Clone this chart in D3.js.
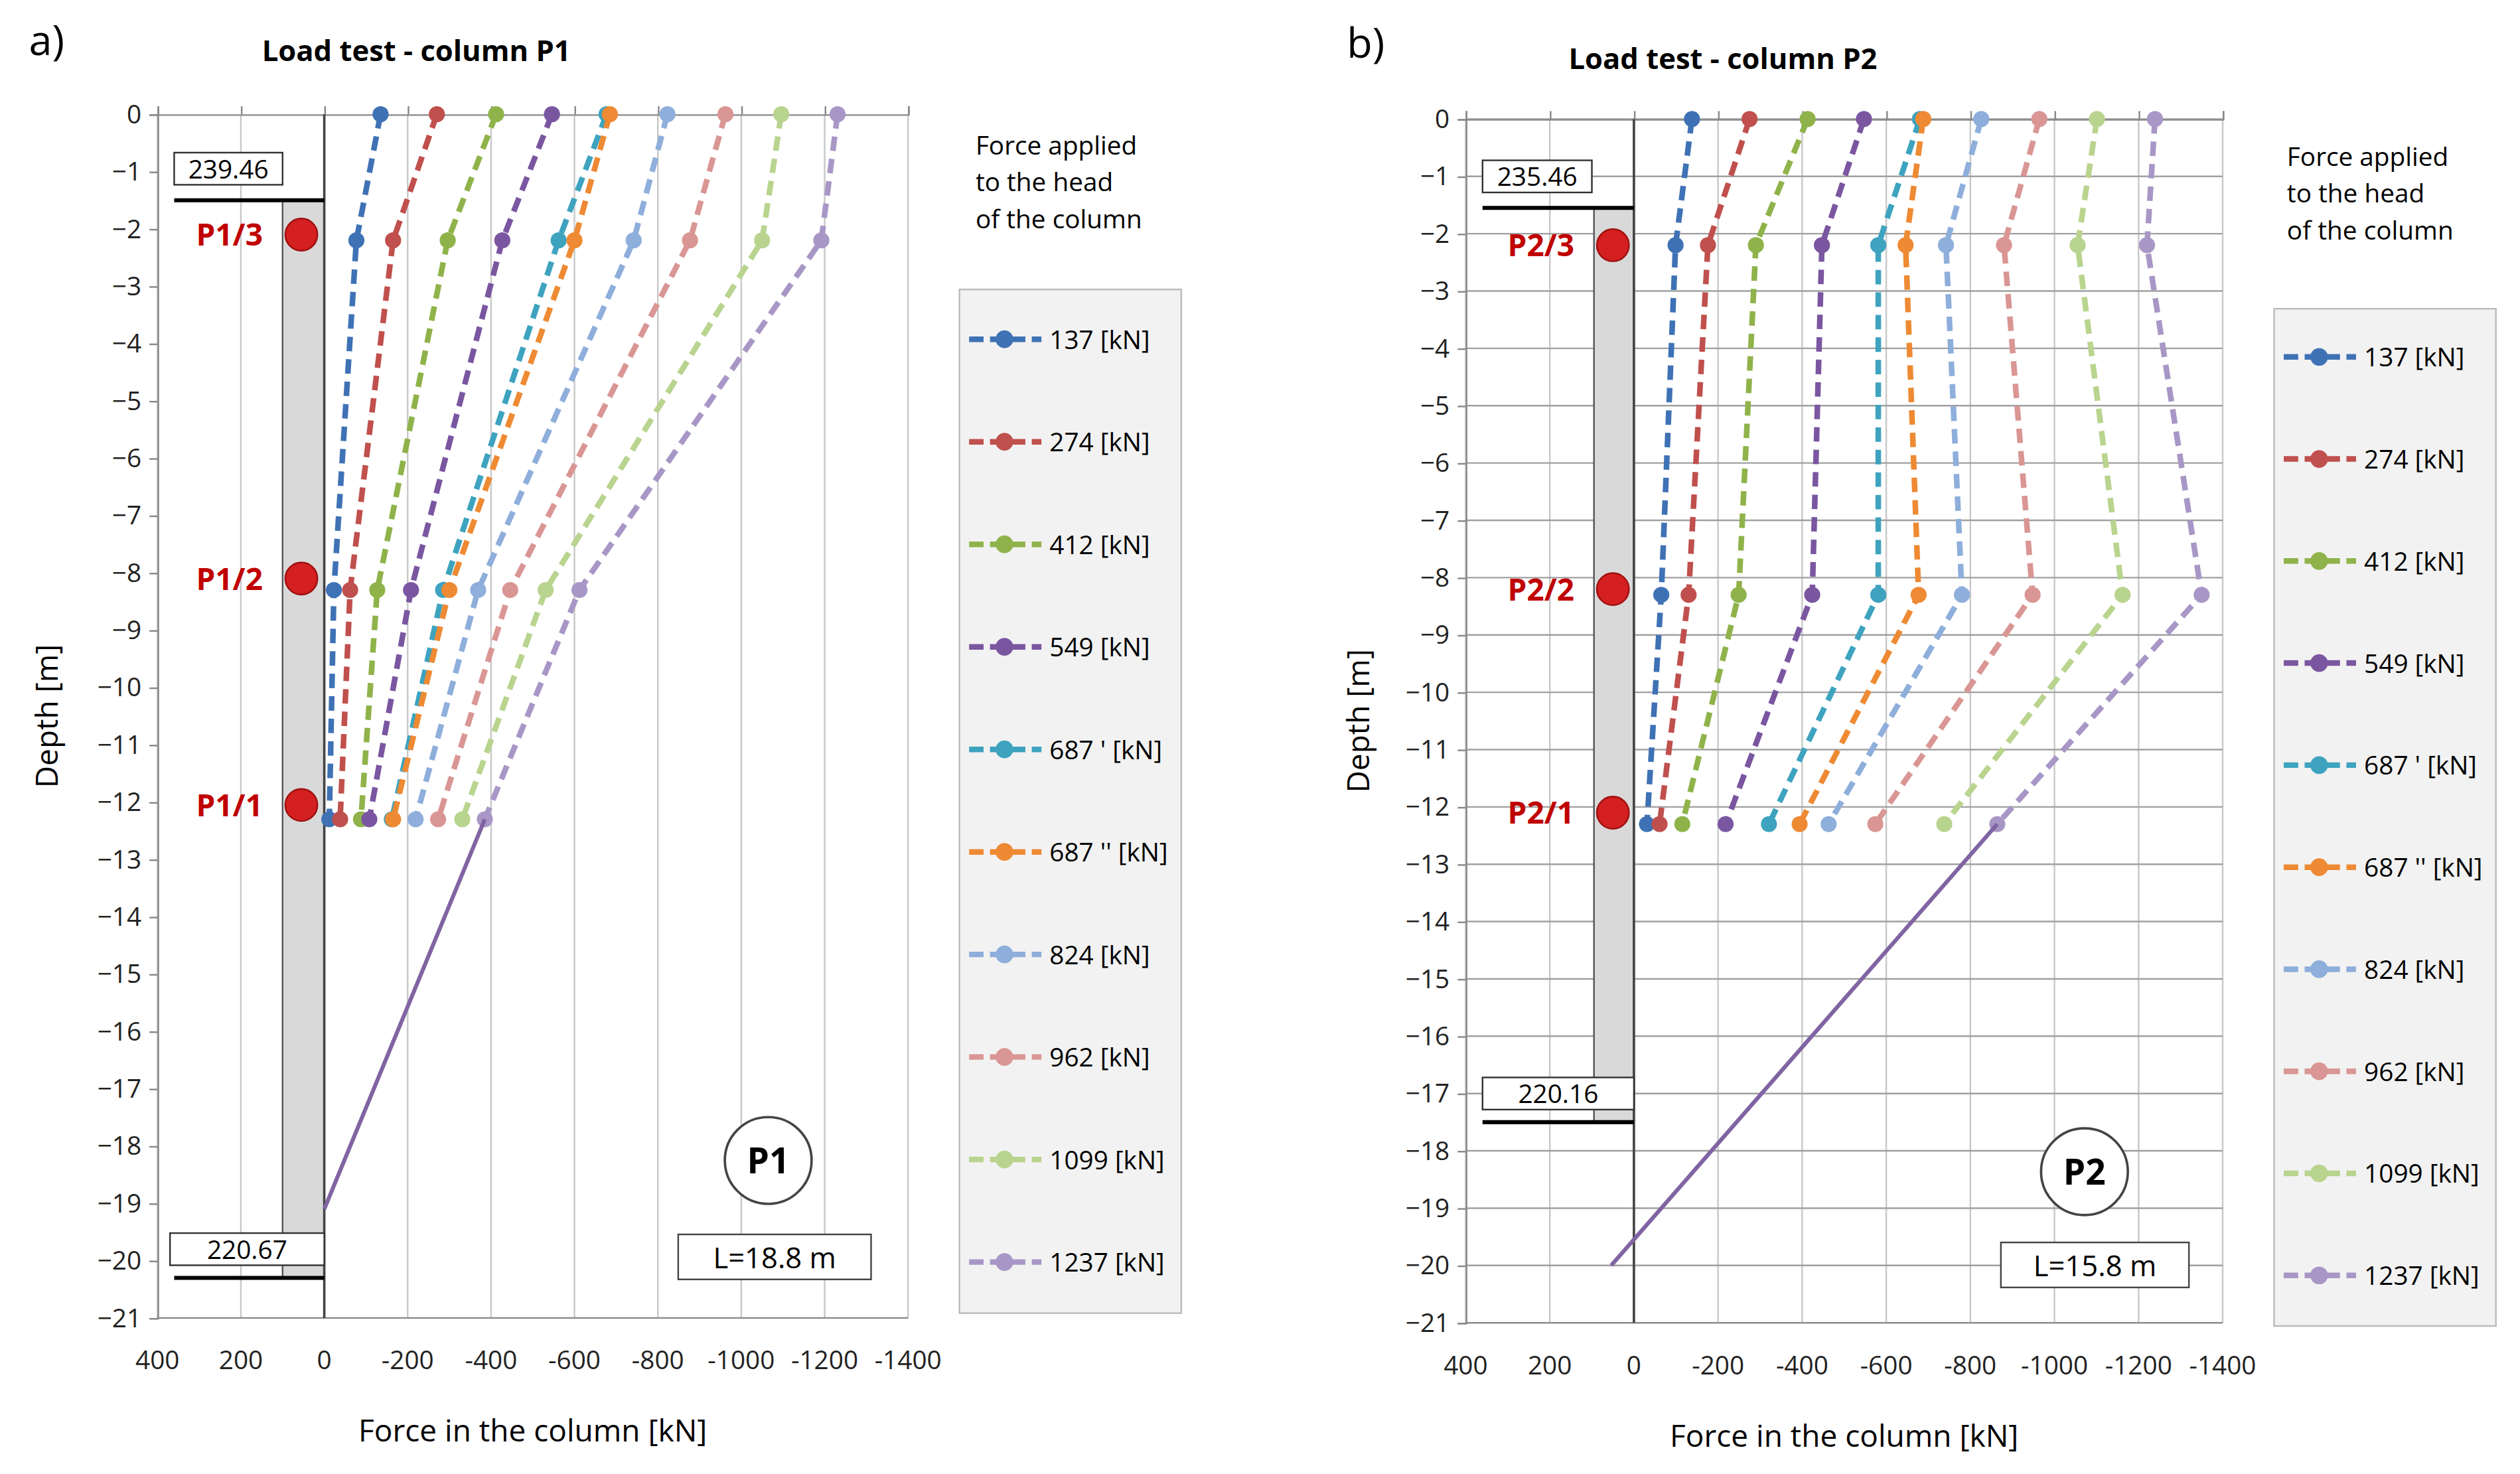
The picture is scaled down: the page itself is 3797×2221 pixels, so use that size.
<!DOCTYPE html>
<html><head><meta charset="utf-8">
<script src="https://cdn.jsdelivr.net/npm/d3@7"></script>
<style>body{margin:0;background:#fff}</style></head>
<body><svg id="c" width="3797" height="2221" viewBox="0 0 1568 917"></svg>
<script>
const seriesNames = ["137 [kN]","274 [kN]","412 [kN]","549 [kN]","687 ' [kN]","687 '' [kN]","824 [kN]","962 [kN]","1099 [kN]","1237 [kN]"];
const colors = ["#3f72b5","#c0504d","#8fb34a","#7a56a0","#3ea3bf","#ee8a33","#8eaedb","#d99694","#b9d48e","#a897c6"];
const depths = [0,-2.2,-8.3,-12.3];
const valuesP1 = [
 [-135,-77,-23,-12],[-270,-165,-62,-38],[-412,-296,-127,-88],[-546,-427,-208,-108],
 [-677,-562,-285,-162],[-685,-600,-300,-165],[-823,-742,-369,-219],[-962,-877,-446,-273],
 [-1096,-1050,-531,-331],[-1231,-1192,-612,-385]];
const valuesP2 = [
 [-138,-99,-65,-31],[-275,-176,-130,-61],[-413,-290,-249,-115],[-547,-447,-424,-218],
 [-680,-581,-581,-321],[-688,-646,-677,-394],[-826,-742,-780,-463],[-964,-880,-948,-574],
 [-1101,-1055,-1162,-738],[-1239,-1220,-1350,-864]];
const extP1 = [[-385,-12.3],[0,-19.1]];
const extP2 = [[-864,-12.3],[54,-20]];
const xTicks = [400,200,0,-200,-400,-600,-800,-1000,-1200,-1400];
const yTicks = d3.range(0,-22,-1);

const svg = d3.select("#c");
const font = "'Open Sans', sans-serif";

function panel(o){
  const g = svg.append("g");
  const x = d3.scaleLinear().domain([400,-1400]).range([o.x0,o.x1]);
  const y = d3.scaleLinear().domain([0,-21]).range([o.y0,o.y1]);
  // grid
  g.selectAll(".vg").data(xTicks).join("line").attr("x1",d=>x(d)).attr("x2",d=>x(d))
   .attr("y1",y(0)).attr("y2",y(-21)).attr("stroke","#c8c8c8").attr("stroke-width",1);
  if(o.hgrid) g.selectAll(".hg").data(yTicks).join("line").attr("x1",x(400)).attr("x2",x(-1400))
   .attr("y1",d=>y(d)).attr("y2",d=>y(d)).attr("stroke","#a0a0a0").attr("stroke-width",1);
  // axes
  const ya = g.append("g").attr("transform",`translate(${x(400)},0)`).call(d3.axisLeft(y).tickValues(yTicks).tickSize(5).tickFormat(d3.format("d")));
  const xa = g.append("g").attr("transform",`translate(0,${y(0)})`).call(d3.axisTop(x).tickValues(xTicks).tickSize(5).tickFormat(""));
  g.append("line").attr("x1",x(400)).attr("x2",x(-1400)).attr("y1",y(-21)).attr("y2",y(-21)).attr("stroke","#888");
  [ya,xa].forEach(a=>{a.select(".domain").attr("stroke","#888");a.selectAll("line").attr("stroke","#888");});
  ya.selectAll("text").attr("font-family",font).attr("font-size",16).attr("fill","#222").attr("dx",-2);
  g.selectAll(".xt").data(xTicks).join("text").attr("x",d=>x(d)).attr("y",y(-21)+32).attr("text-anchor","middle")
   .attr("font-family",font).attr("font-size",16).attr("fill","#222").text(d=>d);
  // column
  g.append("rect").attr("x",x(o.colX)).attr("width",x(0)-x(o.colX)).attr("y",y(o.colTop)).attr("height",y(o.colBot)-y(o.colTop))
   .attr("fill","#d9d9d9").attr("stroke","#555").attr("stroke-width",1);
  g.append("line").attr("x1",x(0)).attr("x2",x(0)).attr("y1",y(0)).attr("y2",y(-21)).attr("stroke","#444").attr("stroke-width",1.5);
  [o.colTop,o.colBot].forEach(d=>g.append("line").attr("x1",x(o.capX)).attr("x2",x(0)).attr("y1",y(d)).attr("y2",y(d)).attr("stroke","#000").attr("stroke-width",2.5));
  o.elev.forEach(e=>{
    const gg=g.append("g");
    gg.append("rect").attr("x",x(e[0])).attr("y",y(e[1])-10).attr("width",x(e[2])-x(e[0])).attr("height",20).attr("fill","#fff").attr("stroke","#333");
    gg.append("text").attr("x",(x(e[0])+x(e[2]))/2).attr("y",y(e[1])+6).attr("text-anchor","middle").attr("font-family",font).attr("font-size",16).text(e[3]);
  });
  // lines
  const line = d3.line().x(d=>x(d[0])).y(d=>y(d[1]));
  o.vals.forEach((v,i)=>{
    const pts = v.map((d,j)=>[d,depths[j]]);
    g.append("path").attr("d",line(pts)).attr("fill","none").attr("stroke",colors[i]).attr("stroke-width",3.5).attr("stroke-dasharray","9,5");
    g.selectAll(null).data(pts).join("circle").attr("cx",d=>x(d[0])).attr("cy",d=>y(d[1])).attr("r",5).attr("fill",colors[i]);
  });
  g.append("path").attr("d",line(o.ext)).attr("fill","none").attr("stroke","#8064a2").attr("stroke-width",2.5);
  // sensors
  o.sensors.forEach(s=>{
    g.append("circle").attr("cx",x(o.dotX)).attr("cy",y(s[0])).attr("r",10).attr("fill","#d42020").attr("stroke","#a01010");
    g.append("text").attr("x",x(o.dotX)-24).attr("y",y(s[0])+7).attr("text-anchor","end").attr("font-family",font).attr("font-weight","bold").attr("font-size",19).attr("fill","#c00000").text(s[1]);
  });
  // P circle, L box
  g.append("circle").attr("cx",o.pc[0]).attr("cy",o.pc[1]).attr("r",27).attr("fill","#fff").attr("stroke","#444").attr("stroke-width",1.5);
  g.append("text").attr("x",o.pc[0]).attr("y",o.pc[1]+8).attr("text-anchor","middle").attr("font-family",font).attr("font-weight","bold").attr("font-size",22).text(o.pname);
  g.append("rect").attr("x",o.lb[0]).attr("y",o.lb[1]).attr("width",o.lb[2]).attr("height",28).attr("fill","#fff").attr("stroke","#444");
  g.append("text").attr("x",o.lb[0]+o.lb[2]/2).attr("y",o.lb[1]+21).attr("text-anchor","middle").attr("font-family",font).attr("font-size",18).text(o.ltext);
  // titles
  g.append("text").attr("x",o.letter[0]).attr("y",o.letter[1]).attr("font-family",font).attr("font-size",26).text(o.ltr);
  g.append("text").attr("x",o.title[0]).attr("y",o.title[1]).attr("font-family",font).attr("font-weight","bold").attr("font-size",18).text(o.ttext);
  g.append("text").attr("transform",`translate(${o.ytx},${(y(0)+y(-21))/2}) rotate(-90)`).attr("text-anchor","middle").attr("font-family",font).attr("font-size",19).text("Depth [m]");
  g.append("text").attr("x",(x(400)+x(-1400))/2).attr("y",y(-21)+77).attr("text-anchor","middle").attr("font-family",font).attr("font-size",19).text("Force in the column [kN]");
  // legend
  ["Force applied","to the head","of the column"].forEach((t,i)=>g.append("text").attr("x",o.lg.hx).attr("y",o.lg.hy+i*23).attr("font-family",font).attr("font-size",16).text(t));
  g.append("rect").attr("x",o.lg.x).attr("y",o.lg.y).attr("width",138).attr("height",o.lg.h).attr("fill","#f2f2f2").attr("stroke","#bbb");
  seriesNames.forEach((n,i)=>{
    const yy=o.lg.e0+i*o.lg.de;
    g.append("line").attr("x1",o.lg.x+6).attr("x2",o.lg.x+51).attr("y1",yy).attr("y2",yy).attr("stroke",colors[i]).attr("stroke-width",3.5).attr("stroke-dasharray","9,4");
    g.append("circle").attr("cx",o.lg.x+28).attr("cy",yy).attr("r",5.5).attr("fill",colors[i]);
    g.append("text").attr("x",o.lg.x+56).attr("y",yy+6).attr("font-family",font).attr("font-size",16).text(n);
  });
}
panel({x0:98,x1:565,y0:71,y1:820,hgrid:false,vals:valuesP1,ext:extP1,colX:100,colTop:-1.5,colBot:-20.3,capX:360,
  elev:[[360,-0.95,100,"239.46"],[370,-19.8,0,"220.67"]],dotX:55,sensors:[[-2.1,"P1/3"],[-8.1,"P1/2"],[-12.05,"P1/1"]],
  pc:[478,722],pname:"P1",lb:[422,768,120],ltext:"L=18.8 m",letter:[18,34],ltr:"a)",title:[163,38],ttext:"Load test - column P1",ytx:36,
  lg:{hx:607,hy:96,x:597,y:180,h:637,e0:211,de:63.8}});
panel({x0:912,x1:1383,y0:74,y1:823,hgrid:true,vals:valuesP2,ext:extP2,colX:95,colTop:-1.55,colBot:-17.5,capX:360,
  elev:[[360,-1.0,100,"235.46"],[360,-17.0,0,"220.16"]],dotX:50,sensors:[[-2.2,"P2/3"],[-8.2,"P2/2"],[-12.1,"P2/1"]],
  pc:[1297,729],pname:"P2",lb:[1245,773,117],ltext:"L=15.8 m",letter:[838,36],ltr:"b)",title:[976,43],ttext:"Load test - column P2",ytx:852,
  lg:{hx:1423,hy:103,x:1415,y:192,h:633,e0:222,de:63.5}});
</script></body></html>
